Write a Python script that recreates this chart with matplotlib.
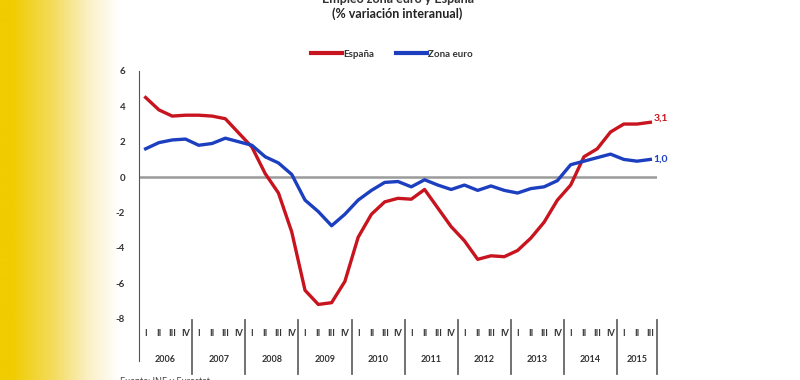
import numpy as np
import matplotlib
matplotlib.use("Agg")
import matplotlib.pyplot as plt
from matplotlib.colors import LinearSegmentedColormap
import matplotlib.transforms as mtransforms

plt.rcParams['font.family'] = ['Lato', 'DejaVu Sans']

# data (% variación interanual), 2006 Q1 .. 2015 Q3
years = ['2006', '2007', '2008', '2009', '2010', '2011', '2012', '2013', '2014', '2015']
quarters_per_year = [4, 4, 4, 4, 4, 4, 4, 4, 4, 3]
quarter_names = ['I', 'II', 'III', 'IV']
espana = [4.5, 3.8, 3.45, 3.5, 3.5, 3.45, 3.3, 2.5, 1.7, 0.2,
          -0.9, -3.1, -6.4, -7.2, -7.1, -5.9, -3.4, -2.1, -1.4, -1.2,
          -1.25, -0.7, -1.75, -2.8, -3.6, -4.65, -4.45, -4.5, -4.15, -3.45,
          -2.55, -1.3, -0.45, 1.15, 1.6, 2.55, 3.0, 3.0, 3.1]
zona_euro = [1.6, 1.95, 2.1, 2.15, 1.8, 1.9, 2.2, 2.0, 1.8, 1.15,
             0.8, 0.15, -1.3, -1.95, -2.75, -2.1, -1.3, -0.75, -0.3, -0.25,
             -0.55, -0.15, -0.45, -0.7, -0.45, -0.75, -0.5, -0.75, -0.9, -0.65,
             -0.55, -0.2, 0.7, 0.9, 1.1, 1.3, 1.0, 0.9, 1.0]

red = '#c8141e'
blue = '#1c3fc0'
x = np.arange(len(espana))

fig = plt.figure(figsize=(8, 3.8), dpi=100)

# yellow fade on the left edge
bg = fig.add_axes([0, 0, 0.15, 1])
grad = np.linspace(0, 1, 200).reshape(1, -1)
cmap = LinearSegmentedColormap.from_list(
    'fade', [(0, '#f0cc00'), (0.1, '#f0cc00'), (0.45, '#f4dc60'), (0.75, '#fbf1c8'), (1, '#ffffff')])
bg.imshow(grad, aspect='auto', cmap=cmap, extent=[0, 1, 0, 1])
bg.axis('off')

ax = fig.add_axes([0.17375, 0.1616, 0.6475, 0.6516])
ax.plot(x, espana, color=red, lw=2.4, solid_joinstyle='round', zorder=3, label='España')
ax.plot(x, zona_euro, color=blue, lw=2.4, solid_joinstyle='round', zorder=3, label='Zona euro')
ax.axhline(0, color='#9a9a9a', lw=1.8, zorder=1)

ax.set_xlim(-0.5, len(x) - 0.5)
ax.set_ylim(-8, 6)
ax.set_yticks(range(-8, 7, 2))
ax.set_yticklabels([str(v) for v in range(-8, 7, 2)], fontsize=7, fontweight='bold', color='#333333')
ax.tick_params(axis='y', length=0, pad=10)
ax.set_xticks([])
for s in ['top', 'right', 'bottom']:
    ax.spines[s].set_visible(False)
ax.spines['left'].set_color('#555555')
ax.spines['left'].set_bounds(-10.4, 6)

# end labels
ax.text(x[-1] + 0.25, espana[-1], '3,1', color=red, fontsize=7.5, fontweight='bold',
        va='bottom', ha='left')
ax.text(x[-1] + 0.25, zona_euro[-1], '1,0', color=blue, fontsize=7.5, fontweight='bold',
        va='center', ha='left')

# category axis: quarters and years
trans = mtransforms.blended_transform_factory(ax.transData, ax.transAxes)
start = 0
for yr, nq in zip(years, quarters_per_year):
    for q in range(nq):
        ax.text(start + q, -0.06, quarter_names[q], transform=trans, ha='center', va='center',
                fontsize=6.5, fontweight='bold', color='#333333')
    ax.text(start + (nq - 1) / 2, -0.165, yr, transform=trans, ha='center', va='center',
            fontsize=6.5, fontweight='bold', color='#333333')
    end = start + nq
    ax.plot([end - 0.5, end - 0.5], [-0.005, -0.225], transform=trans, color='#666666',
            lw=1.3, clip_on=False)
    start = end

# legend
leg = fig.legend(loc='center', bbox_to_anchor=(0.49, 0.857), ncol=2, frameon=False,
                 fontsize=7, handlelength=3.2, handletextpad=0.1, columnspacing=2.2)
for t in leg.get_texts():
    t.set_fontweight('bold')
    t.set_color('#333333')
for h in leg.get_lines():
    h.set_linewidth(3)

# titles (first line cropped at the top)
fig.text(0.497, 1.003, 'Empleo zona euro y España', ha='center', va='center',
         fontsize=9, fontweight='bold', color='#333333')
fig.text(0.497, 0.963, '(% variación interanual)', ha='center', va='center',
         fontsize=9, fontweight='bold', color='#222222')
fig.text(0.15, -0.004, 'Fuente: INE y Eurostat', ha='left', va='center',
         fontsize=6.5, color='#444444')

fig.savefig('out.png', dpi=100)
